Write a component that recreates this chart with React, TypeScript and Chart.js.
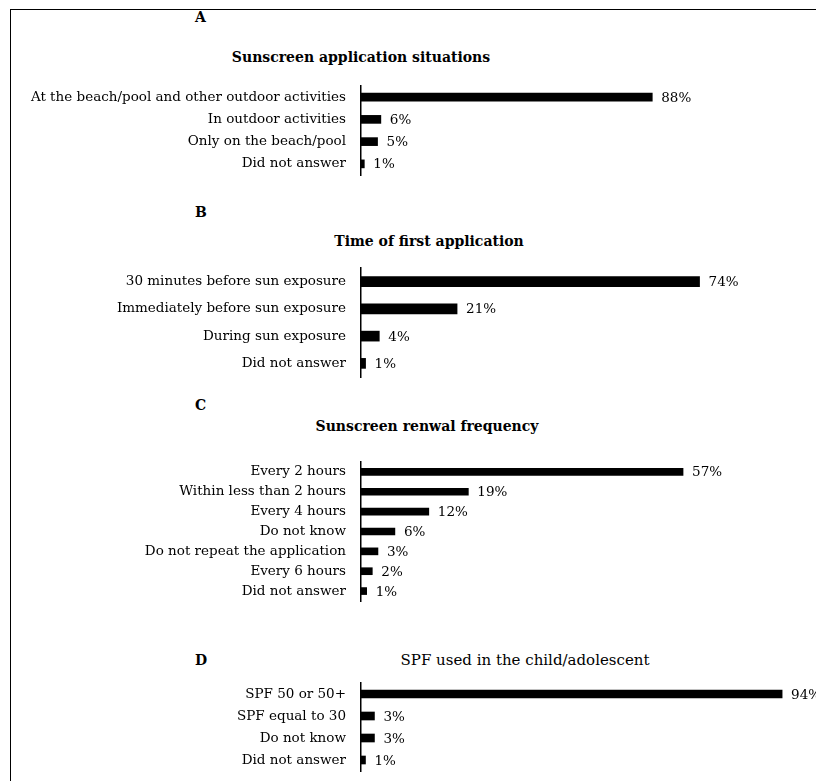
import React, { useEffect, useRef } from "react";
import { Chart, registerables } from "chart.js";
Chart.register(...registerables);

const catsA = [
  "At the beach/pool and other outdoor activities",
  "In outdoor activities",
  "Only on the beach/pool",
  "Did not answer",
];
const valsA = [88, 6, 5, 1];

const catsB = [
  "30 minutes before sun exposure",
  "Immediately before sun exposure",
  "During sun exposure",
  "Did not answer",
];
const valsB = [74, 21, 4, 1];

const catsC = [
  "Every 2 hours",
  "Within less than 2 hours",
  "Every 4 hours",
  "Do not know",
  "Do not repeat the application",
  "Every 6 hours",
  "Did not answer",
];
const valsC = [57, 19, 12, 6, 3, 2, 1];

const catsD = ["SPF 50 or 50+", "SPF equal to 30", "Do not know", "Did not answer"];
const valsD = [94, 3, 3, 1];

const FONT = "'DejaVu Serif', 'Liberation Serif', serif";
const LABEL_SIZE = 13.5;
const PAD = 12;

type PanelCfg = {
  cats: string[];
  vals: number[];
  top: number;
  bottom: number;
  xMax: number;
  right: number;
  thick: number;
};

const valueLabels = {
  id: "valueLabels",
  afterDatasetsDraw(chart: any) {
    const ctx = chart.ctx;
    const meta = chart.getDatasetMeta(0);
    const data = chart.data.datasets[0].data;
    ctx.save();
    ctx.font = `${LABEL_SIZE}px ${FONT}`;
    ctx.fillStyle = "#000";
    ctx.textAlign = "left";
    ctx.textBaseline = "middle";
    meta.data.forEach((el: any, i: number) => {
      ctx.fillText(`${data[i]}%`, el.x + 9, el.y + 1);
    });
    ctx.restore();
  },
};

function Panel({ cfg }: { cfg: PanelCfg }) {
  const ref = useRef<HTMLCanvasElement>(null);
  const W = 816;
  const H = cfg.bottom - cfg.top + 2 * PAD;
  useEffect(() => {
    if (!ref.current) return;
    const chart = new Chart(ref.current, {
      type: "bar",
      data: {
        labels: cfg.cats,
        datasets: [
          {
            data: cfg.vals,
            backgroundColor: "#000",
            borderWidth: 0,
            barThickness: cfg.thick,
          },
        ],
      },
      plugins: [valueLabels],
      options: {
        indexAxis: "y",
        animation: false,
        responsive: false,
        maintainAspectRatio: false,
        layout: { padding: { left: 0, right: W - cfg.right, top: PAD, bottom: PAD } },
        plugins: { legend: { display: false }, tooltip: { enabled: false }, title: { display: false } },
        scales: {
          x: { display: false, min: 0, max: cfg.xMax },
          y: {
            afterFit: (s: any) => {
              s.width = 361;
            },
            grid: { display: false, drawTicks: true, tickLength: 15 },
            border: { display: true, color: "#000", width: 1.5 },
            ticks: {
              color: "#000",
              padding: 0,
              autoSkip: false,
              font: { family: FONT, size: LABEL_SIZE },
            },
          },
        },
      },
    } as any);
    return () => chart.destroy();
  }, []);
  return (
    <canvas
      ref={ref}
      width={W}
      height={H}
      style={{ position: "absolute", left: 0, top: cfg.top - PAD, width: W, height: H }}
    />
  );
}

const panels: PanelCfg[] = [
  { cats: catsA, vals: valsA, top: 86, bottom: 175, xMax: 100, right: 692, thick: 8 },
  { cats: catsB, vals: valsB, top: 268, bottom: 377, xMax: 80, right: 727, thick: 10 },
  { cats: catsC, vals: valsC, top: 462, bottom: 601, xMax: 60, right: 700, thick: 7 },
  { cats: catsD, vals: valsD, top: 683, bottom: 771, xMax: 100, right: 809, thick: 8 },
];

const letters = [
  { t: "A", x: 195, y: 17 },
  { t: "B", x: 195, y: 212 },
  { t: "C", x: 195, y: 405 },
  { t: "D", x: 195, y: 660 },
];

const titles = [
  { t: "Sunscreen application situations", x: 361, y: 57, bold: true },
  { t: "Time of first application", x: 429, y: 241, bold: true },
  { t: "Sunscreen renwal frequency", x: 427, y: 426, bold: true },
  { t: "SPF used in the child/adolescent", x: 525, y: 660, bold: false },
];

export default function App() {
  return (
    <div
      style={{
        position: "absolute",
        left: 0,
        top: 0,
        width: 816,
        height: 781,
        overflow: "hidden",
        background: "#fff",
        fontFamily: FONT,
        color: "#000",
      }}
    >
      <div
        style={{
          position: "absolute",
          left: 10,
          top: 9,
          width: 900,
          height: 900,
          border: "1.5px solid #000",
        }}
      />
      {letters.map((l) => (
        <div
          key={l.t}
          style={{
            position: "absolute",
            left: l.x,
            top: l.y,
            transform: "translateY(-50%)",
            fontWeight: "bold",
            fontSize: 14,
            lineHeight: 1,
          }}
        >
          {l.t}
        </div>
      ))}
      {titles.map((t) => (
        <div
          key={t.t}
          style={{
            position: "absolute",
            left: t.x,
            top: t.y,
            transform: "translate(-50%, -50%)",
            fontWeight: t.bold ? "bold" : "normal",
            fontSize: t.bold ? 14 : 15,
            lineHeight: 1,
            whiteSpace: "nowrap",
          }}
        >
          {t.t}
        </div>
      ))}
      {panels.map((p, i) => (
        <Panel key={i} cfg={p} />
      ))}
    </div>
  );
}
